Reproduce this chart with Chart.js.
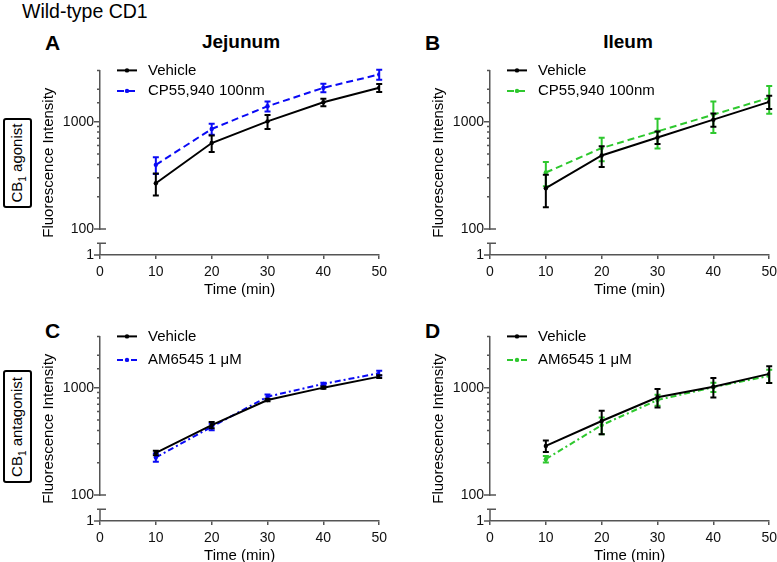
<!DOCTYPE html>
<html>
<head>
<meta charset="utf-8">
<script src="https://cdn.jsdelivr.net/npm/chart.js@4.4.0/dist/chart.umd.min.js"></script>
<style>
  body { margin:0; width:777px; height:562px; overflow:hidden; background:#fff; position:relative; font-family:"Liberation Sans", Arial, sans-serif; color:#000; }
  canvas { position:absolute; }
  .lbl { position:absolute; line-height:1; white-space:nowrap; }
  .b { font-weight:bold; }
  .mid { transform:translateX(-50%); }
  .side { position:absolute; left:3px; width:29px; border:2.5px solid #000; border-radius:3px; box-sizing:border-box; }
  .side span { position:absolute; left:50%; top:50%; transform:translate(-50%,-50%) rotate(-90deg); font-size:15px; white-space:nowrap; line-height:1; }
  .side sub { font-size:10px; }
</style>
</head>
<body>
<div class="lbl" style="left:22px;top:2px;font-size:19.5px">Wild-type CD1</div>
<div class="lbl b" style="left:45px;top:32px;font-size:21px">A</div>
<div class="lbl b mid" style="left:241px;top:32px;font-size:19px">Jejunum</div>
<div class="lbl b" style="left:425px;top:32px;font-size:21px">B</div>
<div class="lbl b mid" style="left:628px;top:32px;font-size:19px">Ileum</div>
<div class="lbl b" style="left:45px;top:320px;font-size:21px">C</div>
<div class="lbl b" style="left:425px;top:320px;font-size:21px">D</div>
<div class="side" style="top:118px;height:90px"><span>CB<sub>1</sub> agonist</span></div>
<div class="side" style="top:370px;height:113px"><span>CB<sub>1</sub> antagonist</span></div>

<canvas id="panelA" width="356" height="243" style="left:36px;top:56px"></canvas>
<canvas id="panelB" width="356" height="243" style="left:426px;top:56px"></canvas>
<canvas id="panelC" width="356" height="243" style="left:36px;top:322px"></canvas>
<canvas id="panelD" width="356" height="243" style="left:426px;top:322px"></canvas>

<script>
// time points (min)
const timePoints = [10, 20, 30, 40, 50];

// Jejunum, CB1 agonist
const jejAgoVehicle = [267, 632, 1006, 1514, 2065];
const jejAgoVehicleErr = [62, 110, 150, 120, 180];
const jejCP55 = [396, 855, 1390, 2065, 2750];
const jejCP55Err = [70, 100, 150, 190, 290];

// Ileum, CB1 agonist
const ileAgoVehicle = [240, 484, 713, 1044, 1528];
const ileAgoVehicleErr = [80, 105, 95, 150, 215];
const ileCP55 = [336, 568, 812, 1162, 1665];
const ileCP55Err = [85, 140, 250, 380, 480];

// Jejunum, CB1 antagonist
const jejAntVehicle = [247, 448, 767, 1000, 1267];
const jejAntVehicleErr = [12, 30, 20, 25, 40];
const jejAM6545 = [224, 432, 824, 1083, 1364];
const jejAM6545Err = [20, 30, 40, 30, 70];

// Ileum, CB1 antagonist
const ileAntVehicle = [287, 489, 813, 1021, 1343];
const ileAntVehicleErr = [35, 120, 160, 210, 240];
const ileAM6545 = [216, 448, 767, 1010, 1286];
const ileAM6545Err = [15, 80, 90, 100, 180];

const axisColor = '#555';
const blue = '#0a0af5';
const green = '#2ec82e';
const FONT = '"Liberation Sans", Arial, sans-serif';

Chart.defaults.font.family = FONT;
Chart.defaults.color = '#111';

// tick marks, axis break, y title, legend and error bars
function panelDecor(legendGap) {
  return {
    id: 'panelDecor',
    afterDatasetDraw(chart, args) {
      const ds = chart.data.datasets[args.index];
      const ys = chart.scales.y;
      const ctx = chart.ctx;
      ctx.save();
      ctx.strokeStyle = ds.borderColor;
      ctx.lineWidth = 2;
      args.meta.data.forEach((pt, i) => {
        const v = ds.data[i].y, e = ds.errors[i];
        const top = ys.getPixelForValue(v + e);
        const bot = ys.getPixelForValue(v - e);
        ctx.beginPath();
        ctx.moveTo(pt.x, top); ctx.lineTo(pt.x, bot);
        ctx.moveTo(pt.x - 3, top); ctx.lineTo(pt.x + 3, top);
        ctx.moveTo(pt.x - 3, bot); ctx.lineTo(pt.x + 3, bot);
        ctx.stroke();
      });
      ctx.restore();
    },
    afterDraw(chart) {
      const ctx = chart.ctx;
      const yUp = chart.scales.y, yLow = chart.scales.yLow, area = chart.chartArea;
      const ax = yUp.right;
      ctx.save();
      ctx.strokeStyle = axisColor;
      ctx.lineWidth = 1.5;
      ctx.beginPath();
      yUp.ticks.forEach(t => {
        const py = yUp.getPixelForValue(t.value);
        const lg = Math.log10(t.value);
        const len = Math.abs(lg - Math.round(lg)) < 1e-6 ? 6 : 3;
        ctx.moveTo(ax - len, py); ctx.lineTo(ax, py);
      });
      // break caps and lower segment
      const brk = yLow.top + (yLow.bottom - yLow.top) * 0.55;
      ctx.moveTo(ax - 3, yUp.bottom); ctx.lineTo(ax + 6, yUp.bottom);
      ctx.moveTo(ax - 3, brk); ctx.lineTo(ax + 6, brk);
      ctx.moveTo(ax, brk); ctx.lineTo(ax, yLow.bottom);
      const p1 = yLow.getPixelForValue(1);
      ctx.moveTo(ax - 6, p1); ctx.lineTo(ax, p1);
      ctx.stroke();

      // y title
      ctx.fillStyle = '#000';
      ctx.font = '15px ' + FONT;
      ctx.textAlign = 'center';
      ctx.textBaseline = 'middle';
      ctx.save();
      ctx.translate(13, (area.top + area.bottom) / 2);
      ctx.rotate(-Math.PI / 2);
      ctx.fillText('Fluorescence Intensity', 0, 0);
      ctx.restore();

      // legend
      ctx.textAlign = 'left';
      chart.data.datasets.forEach((ds, i) => {
        const ly = area.top + i * legendGap;
        const x0 = area.left + 17, x1 = area.left + 37;
        ctx.strokeStyle = ds.borderColor;
        ctx.lineWidth = 2;
        ctx.setLineDash(ds.borderDash || []);
        ctx.beginPath(); ctx.moveTo(x0, ly); ctx.lineTo(x1, ly); ctx.stroke();
        ctx.setLineDash([]);
        ctx.fillStyle = ds.borderColor;
        ctx.beginPath(); ctx.arc((x0 + x1) / 2, ly, 2.2, 0, Math.PI * 2); ctx.fill();
        ctx.fillStyle = '#000';
        ctx.fillText(ds.label, area.left + 48, ly);
      });
      ctx.restore();
    }
  };
}

function series(values) {
  return timePoints.map((t, i) => ({ x: t, y: values[i] }));
}

function makePanel(id, vehicle, vehicleErr, treat, treatErr, treatLabel, color, dash, legendGap) {
  new Chart(document.getElementById(id), {
    type: 'line',
    data: {
      datasets: [
        {
          label: 'Vehicle',
          data: series(vehicle),
          errors: vehicleErr,
          borderColor: '#000',
          backgroundColor: '#000',
          borderWidth: 2,
          pointRadius: 2.2,
          pointBorderWidth: 0,
          tension: 0
        },
        {
          label: treatLabel,
          data: series(treat),
          errors: treatErr,
          borderColor: color,
          backgroundColor: color,
          borderDash: dash,
          borderWidth: 2,
          pointRadius: 2.2,
          pointBorderWidth: 0,
          tension: 0
        }
      ]
    },
    options: {
      responsive: false,
      animation: false,
      devicePixelRatio: 1,
      layout: { padding: { top: 14, right: 12, left: 0, bottom: 0 } },
      plugins: { legend: { display: false }, tooltip: { enabled: false } },
      scales: {
        x: {
          type: 'linear',
          min: 0,
          max: 50,
          ticks: { stepSize: 10, font: { size: 14 }, padding: 5 },
          grid: { display: true, drawOnChartArea: false, drawTicks: true, tickLength: 4, color: axisColor, lineWidth: 1.5 },
          border: { display: true, color: axisColor, width: 1.5 },
          title: { display: true, text: 'Time (min)', font: { size: 15 }, color: '#000', padding: { top: 0, bottom: 0 } },
          afterFit(s) { s.height = 44; }
        },
        y: {
          type: 'logarithmic',
          position: 'left',
          stack: 'left',
          stackWeight: 159,
          weight: 1,
          min: 100,
          max: 3000,
          ticks: {
            font: { size: 14 },
            padding: 6,
            autoSkip: false,
            callback: v => (v === 100 || v === 1000) ? String(v) : ''
          },
          grid: { display: false, drawTicks: false },
          border: { display: true, color: axisColor, width: 1.5 },
          afterFit(s) { s.width = 64; }
        },
        yLow: {
          type: 'linear',
          position: 'left',
          stack: 'left',
          stackWeight: 26,
          weight: 0,
          min: 1,
          max: 2,
          afterBuildTicks(s) { s.ticks = [{ value: 1 }]; },
          ticks: { font: { size: 14 }, padding: 6, callback: v => String(v) },
          grid: { display: false, drawTicks: false },
          border: { display: false },
          afterFit(s) { s.width = 64; }
        }
      }
    },
    plugins: [panelDecor(legendGap)]
  });
}

makePanel('panelA', jejAgoVehicle, jejAgoVehicleErr, jejCP55, jejCP55Err, 'CP55,940 100nm', blue, [7, 4], 20.5);
makePanel('panelB', ileAgoVehicle, ileAgoVehicleErr, ileCP55, ileCP55Err, 'CP55,940 100nm', green, [7, 4], 20.5);
makePanel('panelC', jejAntVehicle, jejAntVehicleErr, jejAM6545, jejAM6545Err, 'AM6545 1 \u03bcM', blue, [6, 3, 2, 3], 23.5);
makePanel('panelD', ileAntVehicle, ileAntVehicleErr, ileAM6545, ileAM6545Err, 'AM6545 1 \u03bcM', green, [6, 3, 2, 3], 23.5);
</script>
</body>
</html>
